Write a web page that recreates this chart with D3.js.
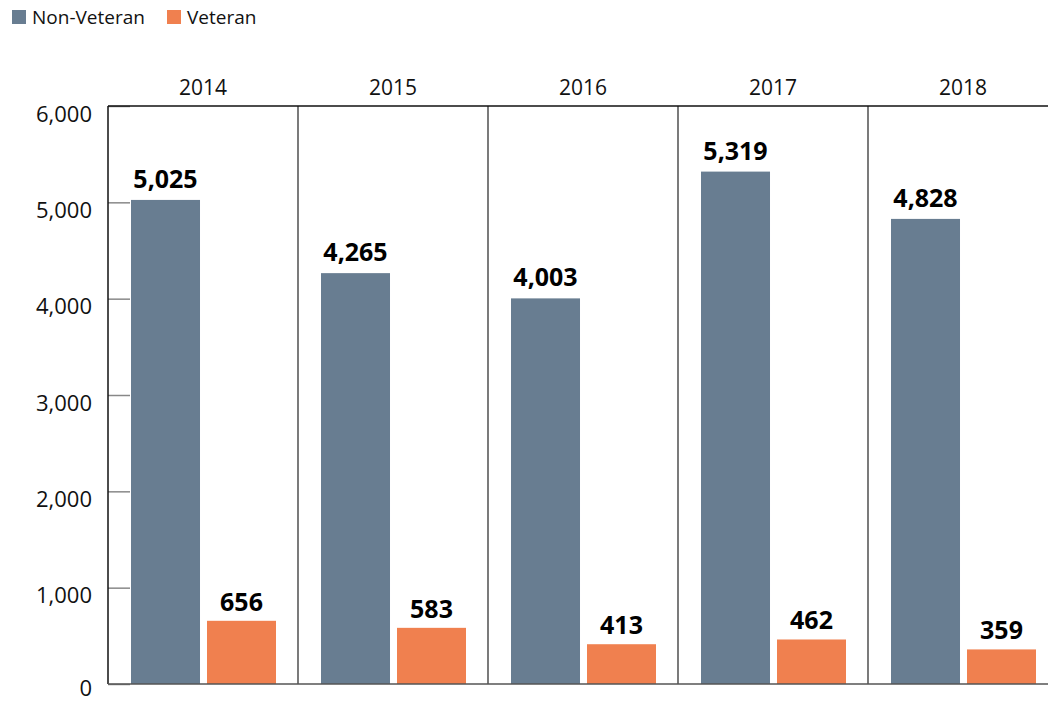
<!DOCTYPE html>
<html>
<head>
<meta charset="utf-8">
<script src="https://cdn.jsdelivr.net/npm/d3@7"></script>
<style>
  html, body { margin: 0; padding: 0; background: #fff; }
  svg { display: block; font-family: "Open Sans", "Noto Sans", sans-serif; }
</style>
</head>
<body>
<svg id="chart" width="1048" height="702"></svg>
<script>
// Annual counts, split by veteran status
const years = ["2014", "2015", "2016", "2017", "2018"];
const nonVeteran = [5025, 4265, 4003, 5319, 4828];
const veteran = [656, 583, 413, 462, 359];
const seriesNames = ["Non-Veteran", "Veteran"];
const seriesColors = ["#687d91", "#f0804f"];
const yTicks = [0, 1000, 2000, 3000, 4000, 5000, 6000];

const svg = d3.select("#chart");
const margin = { left: 108, top: 106, bottom: 684 };
const panelWidth = 190;

const x = d3.scaleBand()
  .domain(years)
  .range([margin.left, margin.left + panelWidth * years.length])
  .paddingInner(0).paddingOuter(0);

const inner = d3.scaleBand()
  .domain(seriesNames)
  .range([23, 168])
  .paddingInner(0.092);

const y = d3.scaleLinear().domain([0, 6000]).range([margin.bottom, margin.top]);

const fmt = d3.format(",");

// Legend
const legend = svg.append("g").attr("transform", "translate(12,10)");
const legendX = [0, 155];
seriesNames.forEach((name, i) => {
  const g = legend.append("g").attr("transform", `translate(${legendX[i]},0)`);
  g.append("rect").attr("width", 14).attr("height", 14).attr("fill", seriesColors[i]);
  g.append("text").attr("x", 20).attr("y", 14)
    .attr("font-size", 19).attr("fill", "#111").text(name);
});

// Y axis with short inward ticks; labels sit just below their tick
const yAxis = svg.append("g")
  .attr("transform", `translate(${margin.left},0)`)
  .call(d3.axisLeft(y).tickValues(yTicks).tickFormat(fmt).tickSize(-22).tickPadding(16));
yAxis.select(".domain").remove();
yAxis.selectAll(".tick line").attr("stroke", "#888").attr("stroke-width", 1.5);
yAxis.selectAll(".tick text")
  .attr("font-size", 22).attr("fill", "#111")
  .attr("dy", d => d === 0 ? 11 : 15)
  .attr("font-family", "'Open Sans', sans-serif");

// Year labels above panels
svg.append("g").selectAll("text").data(years).join("text")
  .attr("x", d => x(d) + x.bandwidth() / 2)
  .attr("y", 95)
  .attr("text-anchor", "middle")
  .attr("font-size", 21).attr("fill", "#111")
  .text(d => d);

// Bars
const rows = years.map((yr, i) => ({ year: yr, values: [nonVeteran[i], veteran[i]] }));
const groups = svg.append("g").selectAll("g").data(rows).join("g")
  .attr("transform", d => `translate(${x(d.year)},0)`);

groups.selectAll("rect").data(d => d.values.map((v, j) => ({ name: seriesNames[j], v, j })))
  .join("rect")
  .attr("x", d => inner(d.name))
  .attr("width", inner.bandwidth())
  .attr("y", d => y(d.v))
  .attr("height", d => y(0) - y(d.v))
  .attr("fill", d => seriesColors[d.j]);

// Value labels above each bar
const labelGap = [12, 10];
groups.selectAll("text.val").data(d => d.values.map((v, j) => ({ name: seriesNames[j], v, j })))
  .join("text").attr("class", "val")
  .attr("x", d => inner(d.name) + inner.bandwidth() / 2)
  .attr("y", d => y(d.v) - labelGap[d.j])
  .attr("text-anchor", "middle")
  .attr("font-size", 25).attr("font-weight", "bold").attr("fill", "#000")
  .text(d => fmt(d.v));

// Frame: panel dividers, top rule, left axis line, baseline
const frame = svg.append("g");
years.slice(1).forEach(yr => {
  frame.append("line")
    .attr("x1", x(yr)).attr("x2", x(yr))
    .attr("y1", margin.top).attr("y2", margin.bottom)
    .attr("stroke", "#333").attr("stroke-width", 1.3);
});
frame.append("line")
  .attr("x1", margin.left).attr("x2", 1048)
  .attr("y1", margin.top).attr("y2", margin.top)
  .attr("stroke", "#111").attr("stroke-width", 1.5);
frame.append("line")
  .attr("x1", margin.left).attr("x2", margin.left)
  .attr("y1", margin.top).attr("y2", margin.bottom)
  .attr("stroke", "#111").attr("stroke-width", 1.5);
frame.append("line")
  .attr("x1", margin.left).attr("x2", 1048)
  .attr("y1", margin.bottom).attr("y2", margin.bottom)
  .attr("stroke", "#555").attr("stroke-width", 1.5);
</script>
</body>
</html>
